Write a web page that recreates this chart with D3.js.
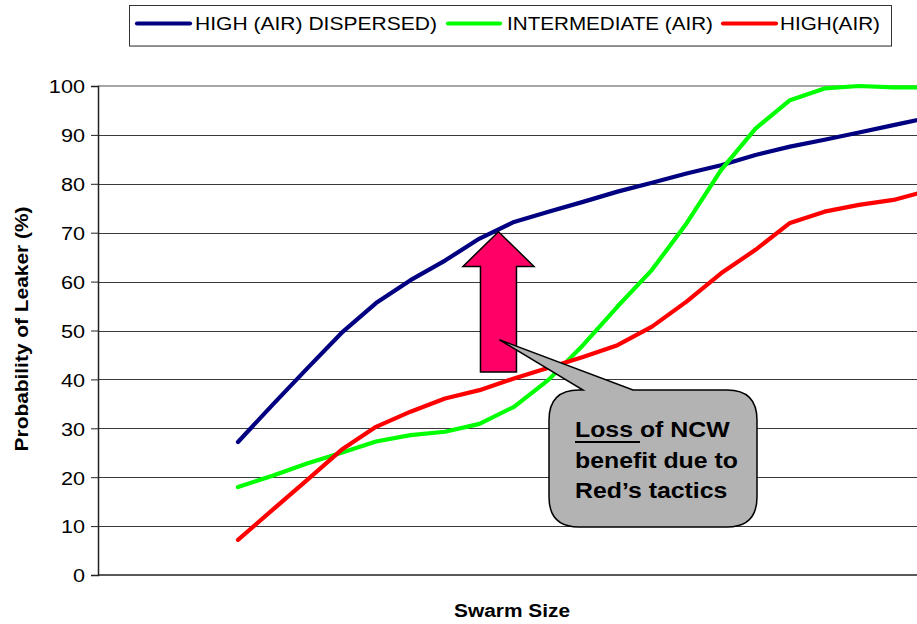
<!DOCTYPE html>
<html><head><meta charset="utf-8">
<script src="https://cdn.jsdelivr.net/npm/d3@7"></script>
<style>html,body{margin:0;padding:0;background:#fff}svg{display:block}</style>
</head><body>
<svg id="chart" width="917" height="624"></svg>
<script>
const swarmSize = [4,5,6,7,8,9,10,11,12,13,14,15,16,17,18,19,20,21,22,23,24];
const highDispersed = [27.2,34.8,42.2,49.5,55.6,60.3,64.3,68.8,72.2,74.3,76.3,78.4,80.2,82.1,83.8,85.9,87.6,89.0,90.5,92.0,93.5];
const intermediate  = [18.0,20.3,22.8,25.0,27.3,28.6,29.3,30.9,34.4,39.9,47.0,54.9,62.4,71.9,82.8,91.3,97.1,99.5,100,99.7,99.7];
const highAir       = [7.2,13.3,19.4,25.6,30.3,33.4,36.1,37.8,40.2,42.4,44.6,47.0,50.8,55.9,61.7,66.5,72.0,74.3,75.7,76.7,78.6];
const seriesNames = ["HIGH (AIR) DISPERSED)","INTERMEDIATE (AIR)","HIGH(AIR)"];
const seriesColors = ["#000080","#00FF00","#FF0000"];
const yTicks = [0,10,20,30,40,50,60,70,80,90,100];
const yTitle = "Probability of Leaker (%)";
const xTitle = "Swarm Size";
const calloutLines = ["Loss of NCW","benefit due to","Red\u2019s tactics"];

(function(){
const FONT = "Arial, 'Liberation Sans', sans-serif";
const svg = d3.select("#chart");
const pLeft = 98, pRight = 917, pTop = 86, pBottom = 575;
const x = d3.scaleLinear().domain([0,24]).range([100,928]);
const y = d3.scaleLinear().domain([0,100]).range([pBottom, pTop]);

// gridlines
svg.append("g").selectAll("line").data(yTicks.filter(d=>d>0 && d<100)).join("line")
  .attr("x1",pLeft).attr("x2",pRight)
  .attr("y1",d=>Math.round(y(d))+0.5).attr("y2",d=>Math.round(y(d))+0.5)
  .attr("stroke","#3a3a3a").attr("stroke-width",1);
// top border
svg.append("line").attr("x1",pLeft).attr("x2",pRight).attr("y1",y(100)).attr("y2",y(100))
  .attr("stroke","#a6a6a6").attr("stroke-width",2);

// y axis
const yAxis = d3.axisLeft(y).tickValues(yTicks).tickSize(7).tickFormat(d3.format("d"));
const gy = svg.append("g").attr("transform",`translate(${pLeft},0)`).call(yAxis);
gy.select(".domain").attr("stroke","#222").attr("stroke-width",1.5);
gy.selectAll(".tick line").attr("stroke","#222");
gy.selectAll(".tick text").each(function(d){
  d3.select(this).attr("x",null).attr("dy",null).attr("y",null)
   .attr("transform",`translate(-13,6.8) scale(1.14,1)`)
   .attr("font-family",FONT).attr("font-size",19).attr("fill","#000").attr("text-anchor","end");
});
gy.attr("font-size",null).attr("font-family",null);
// x axis line
svg.append("line").attr("x1",pLeft).attr("x2",pRight).attr("y1",pBottom).attr("y2",pBottom)
  .attr("stroke","#222").attr("stroke-width",1.6);

// lines
const allSeries = [highDispersed, intermediate, highAir];
const line = d3.line().x((d,i)=>x(swarmSize[i])).y(d=>y(d));
allSeries.forEach((s,k)=>{
  svg.append("path").datum(s).attr("d",line).attr("fill","none")
    .attr("stroke",seriesColors[k]).attr("stroke-width",4.2)
    .attr("stroke-linejoin","round").attr("stroke-linecap","round");
});

// axis titles
svg.append("text").attr("transform",`translate(512,617) scale(1.13,1)`)
  .attr("text-anchor","middle").attr("font-family",FONT).attr("font-weight","bold")
  .attr("font-size",18.5).text(xTitle);
svg.append("text").attr("transform",`translate(28,329) rotate(-90) scale(1.13,1)`)
  .attr("text-anchor","middle").attr("font-family",FONT).attr("font-weight","bold")
  .attr("font-size",18.5).text(yTitle);

// legend
const lg = svg.append("g");
lg.append("rect").attr("x",129.5).attr("y",5.5).attr("width",762).attr("height",40.5)
  .attr("fill","#fff").attr("stroke","#333").attr("stroke-width",1);
lg.append("line").attr("x1",130).attr("x2",892).attr("y1",46.5).attr("y2",46.5).attr("stroke","#888");
const legX = [[137,190,195,242],[448,500,507,206],[723,776,780,100]];
seriesNames.forEach((n,k)=>{
  const p = legX[k];
  lg.append("line").attr("x1",p[0]).attr("x2",p[1]).attr("y1",23.5).attr("y2",23.5)
    .attr("stroke",seriesColors[k]).attr("stroke-width",4.2).attr("stroke-linecap","round");
  lg.append("text").attr("x",p[2]).attr("y",29.5).attr("font-family",FONT).attr("font-size",19)
    .attr("textLength",p[3]).attr("lengthAdjust","spacingAndGlyphs").text(n);
});

// arrow (pink)
const ax = x(11.55), tipY = y(70.2), baseY = y(41.5), headBase = y(63.1);
const sw = 18, hw = 35.5;
const arrowPts = [[ax,tipY],[ax+hw,headBase],[ax+sw,headBase],[ax+sw,baseY],[ax-sw,baseY],[ax-sw,headBase],[ax-hw,headBase]];
svg.append("path").attr("d","M"+arrowPts.map(p=>p.join(",")).join("L")+"Z")
  .attr("fill","#FF0066").attr("stroke","#000").attr("stroke-width",1.5).attr("stroke-linejoin","miter");

// callout
const bx0=549, by0=390, bx1=757, by1=527, r=30;
const tip=[x(11.55)+1, y(48.1)];
const cp = `M${bx0+r},${by0} L583,${by0} L${tip[0]},${tip[1]} L633,${by0} L${bx1-r},${by0}
 Q${bx1},${by0} ${bx1},${by0+r} L${bx1},${by1-r} Q${bx1},${by1} ${bx1-r},${by1}
 L${bx0+r},${by1} Q${bx0},${by1} ${bx0},${by1-r} L${bx0},${by0+r} Q${bx0},${by0} ${bx0+r},${by0} Z`;
svg.append("path").attr("d",cp).attr("fill","#b3b3b3").attr("stroke","#000").attr("stroke-width",1.5);
calloutLines.forEach((t,i)=>{
  svg.append("text").attr("transform",`translate(575,${437+i*30.5}) scale(1.13,1)`)
    .attr("font-family",FONT).attr("font-weight","bold").attr("font-size",22).text(t);
});
svg.append("line").attr("x1",575).attr("x2",640).attr("y1",442).attr("y2",442)
  .attr("stroke","#000").attr("stroke-width",2);
})();
</script>
</body></html>
